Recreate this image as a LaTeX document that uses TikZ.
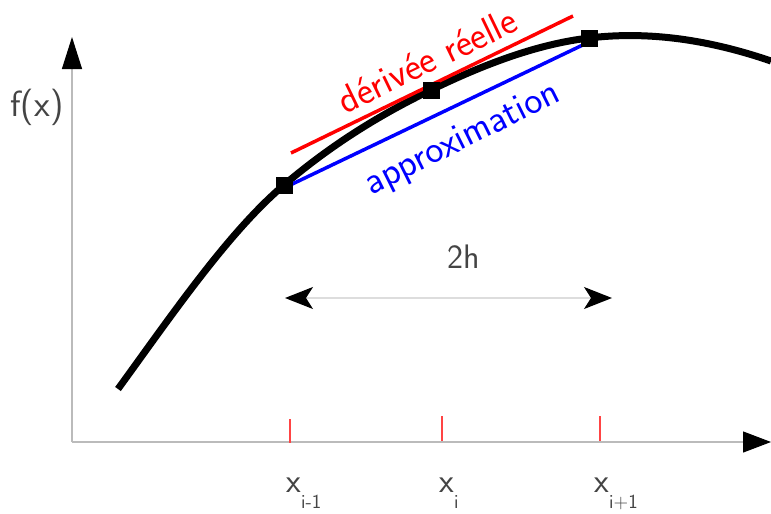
\documentclass[tikz,border=0pt]{standalone}
\usetikzlibrary{arrows.meta}
\definecolor{txtgray}{HTML}{444444}
\definecolor{axisgray}{HTML}{BBBBBB}
\definecolor{arrgray}{HTML}{DDDDDD}
\definecolor{tickred}{HTML}{FF4444}
\begin{document}
\begin{tikzpicture}[x=1pt,y=-1pt,
  lbl/.style={text=txtgray,font=\sffamily\fontsize{34}{40}\selectfont,inner sep=0pt},
  biglbl/.style={font=\sffamily\fontsize{38.5}{44}\selectfont,inner sep=0pt},
  sublbl/.style={text=txtgray,font=\sffamily\fontsize{20}{24}\selectfont,inner sep=0pt},
  marker/.style={fill=black,minimum size=17pt,inner sep=0pt},
  axis/.style={draw=axisgray,line width=1.2pt},
  tickmark/.style={draw=tickred,line width=1.3pt}]
\useasboundingbox (0,0) rectangle (771,514);
% axes
\coordinate (o) at (72,442);
\coordinate (ytop) at (72,37);
\coordinate (xend) at (771,442);
\draw[axis,-{Triangle[length=32pt,width=20pt,fill=black,color=black]}] (o) -- (ytop);
\draw[axis,-{Triangle[length=28pt,width=21pt,fill=black,color=black]}] (o) -- (xend);
\node[lbl,font=\sffamily\fontsize{36.5}{42}\selectfont] (fx) at (37,107) {f(x)};
% ticks
\coordinate (t1a) at (290,419); \coordinate (t1b) at (290,443);
\coordinate (t2a) at (442,416); \coordinate (t2b) at (442,441);
\coordinate (t3a) at (600,416); \coordinate (t3b) at (600,441);
\draw[tickmark] (t1a) -- (t1b);
\draw[tickmark] (t2a) -- (t2b);
\draw[tickmark] (t3a) -- (t3b);
% labels
\node[lbl,anchor=base] (x1) at (294,492) {x};
\node[sublbl,anchor=base west] (s1) at (301,508) {i-1};
\node[lbl,anchor=base] (x2) at (447,492) {x};
\node[sublbl,anchor=base west] (s2) at (454,508) {i};
\node[lbl,anchor=base] (x3) at (602,492) {x};
\node[sublbl,anchor=base west] (s3) at (609,508) {i+1};
% 2h arrow
\coordinate (hl) at (285,298);
\coordinate (hr) at (612,298);
\draw[draw=arrgray,line width=1.3pt,{Stealth[length=28pt,width=22pt,inset=7pt,color=black]}-{Stealth[length=28pt,width=22pt,inset=7pt,color=black]}] (hl) -- (hr);
\node[lbl] (h2) at (464,257) {2h};
% curve
\coordinate (c0) at (118,389);
\coordinate (c1) at (284,185);
\coordinate (c2) at (431,90);
\coordinate (c3) at (589,38);
\coordinate (c4) at (771,61);
\draw[line width=7pt,line cap=butt] (c0)
  .. controls (173.3,312.9) and (228.7,232.0) .. (c1)
  .. controls (333,143.35) and (382,113.7) .. (c2)
  .. controls (483.67,64.5) and (536.33,44.3) .. (c3)
  .. controls (649.67,30.7) and (710.33,40.2) .. (c4);
% tangent and approximation
\coordinate (ra) at (291,153);
\coordinate (rb) at (573,16);
\draw[red,line width=3.5pt] (ra) -- (rb);
\coordinate (ba) at (284,188);
\coordinate (bb) at (589,42);
\draw[blue,line width=3.5pt] (ba) -- (bb);
% markers
\node[marker] (m1) at (c1) {};
\node[marker] (m2) at (c2) {};
\node[marker] (m3) at (c3) {};
% texts
\node[biglbl,text=red,rotate=25.8] (der) at (427,60) {dérivée réelle};
\node[biglbl,text=blue,rotate=26.5] (app) at (463,140) {approximation};
\end{tikzpicture}
\end{document}
